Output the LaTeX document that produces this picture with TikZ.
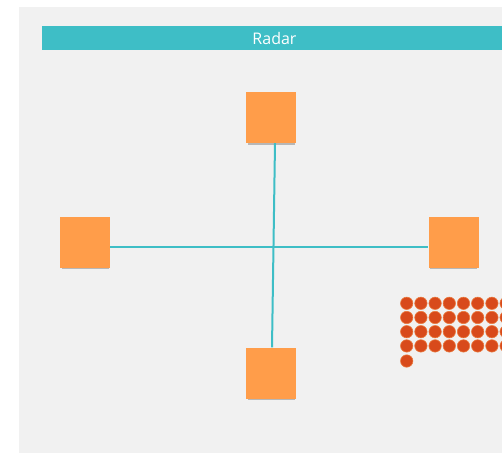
\documentclass[tikz,border=0pt]{standalone}
\usepackage{fontspec}
\setmainfont{Open Sans}
\usetikzlibrary{shadows}
\definecolor{bgray}{HTML}{F1F1F1}
\definecolor{teal1}{HTML}{3EBEC6}
\definecolor{sticky}{HTML}{FF9D4A}
\definecolor{dotred}{HTML}{D84A1B}
\definecolor{dotedge}{HTML}{EA7A3E}
\tikzset{
  stickynote/.style={fill=sticky, minimum width=50pt, minimum height=51pt, inner sep=0pt,
    drop shadow={shadow xshift=0pt, shadow yshift=-3.5pt, shadow scale=0.94, opacity=0.3, fill=black!80}},
  link/.style={draw=teal1, line width=2pt},
  bar/.style={fill=teal1, minimum width=460pt, minimum height=24pt, inner sep=0pt},
  dotmark/.style={fill=dotred, draw=dotedge, line width=0.6pt}
}
\begin{document}
\begin{tikzpicture}[x=1pt,y=-1pt]
\useasboundingbox (0,0) rectangle (502,453);
\fill[white] (0,0) rectangle (502,453);
\fill[bgray] (19,7) rectangle (502,453);
% title bar
\node[bar] (title) at (272,38) {};
\node[text=white, font=\fontsize{16}{18}\selectfont, inner sep=0pt] (titletext) at (274.5,38) {Radar};
% sticky notes
\node[stickynote] (top) at (271,117.5) {};
\node[stickynote] (left) at (85,242) {};
\node[stickynote] (right) at (453.5,242) {};
\node[stickynote] (bottom) at (271,373) {};
% connectors
\draw[link] ([xshift=4pt]top.south) -- ([xshift=1pt]bottom.north);
\draw[link] ([yshift=-5pt]left.east) -- ([yshift=-5pt]right.west);
% dots
\foreach \r in {0,1,2,3}{
  \foreach \c in {0,...,7}{
    \fill[dotmark] ({406.7+14.2*\c},{303.3+14.2*\r}) circle (6.2);
  }
}
\fill[dotmark] (406.7,361) circle (6.2);
\end{tikzpicture}
\end{document}
